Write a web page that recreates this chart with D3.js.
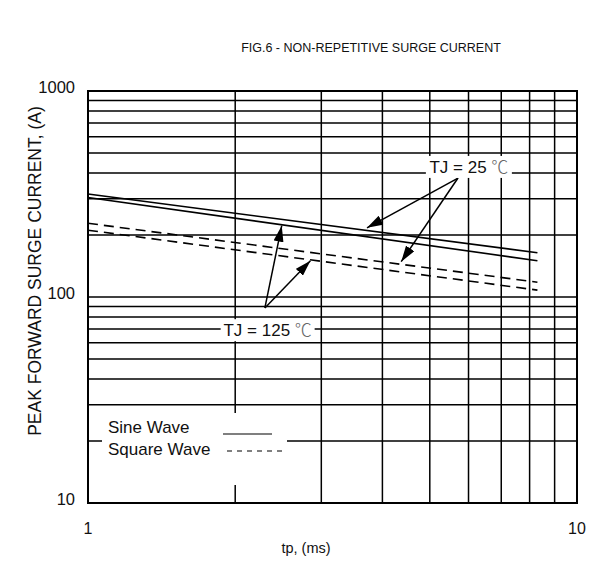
<!DOCTYPE html>
<html>
<head>
<meta charset="utf-8">
<script src="https://cdn.jsdelivr.net/npm/d3@7"></script>
<style>
  body { margin: 0; background: #fff; }
  text { font-family: "Liberation Sans", Arial, sans-serif; fill: #111; }
</style>
</head>
<body>
<script>
// data (tp in ms, current in A)
var tp = [1, 8.3];
var sine25 = [316, 164];
var sine125 = [304, 150];
var square25 = [228, 118];
var square125 = [211, 108];

var xTickLabels = ["1", "10"];
var yTickLabels = ["10", "100", "1000"];

var width = 598, height = 587;
var pLeft = 88, pRight = 577, pTop = 91, pBottom = 503;

var svg = d3.select("body").append("svg")
    .attr("width", width)
    .attr("height", height);

var x = d3.scaleLog().domain([1, 10]).range([pLeft, pRight]);
var y = d3.scaleLog().domain([10, 1000]).range([pBottom, pTop]);

// arrow marker
svg.append("defs").append("marker")
    .attr("id", "head")
    .attr("viewBox", "0 0 16 10")
    .attr("refX", 16).attr("refY", 5)
    .attr("markerWidth", 16).attr("markerHeight", 10)
    .attr("markerUnits", "userSpaceOnUse")
    .attr("orient", "auto")
  .append("path")
    .attr("d", "M0,0 L16,5 L0,10 Z")
    .attr("fill", "#000");

// grid
var grid = svg.append("g").attr("class", "grid");
grid.selectAll(".vline")
    .data(x.ticks())
  .enter().append("line")
    .attr("x1", function(d) { return x(d); })
    .attr("x2", function(d) { return x(d); })
    .attr("y1", pTop).attr("y2", pBottom)
    .attr("stroke", "#000").attr("stroke-width", 1.5);
grid.selectAll(".hline")
    .data(y.ticks())
  .enter().append("line")
    .attr("y1", function(d) { return y(d); })
    .attr("y2", function(d) { return y(d); })
    .attr("x1", pLeft).attr("x2", pRight)
    .attr("stroke", "#000").attr("stroke-width", 1.5);

// curves
var line = d3.line()
    .x(function(d) { return x(d[0]); })
    .y(function(d) { return y(d[1]); });

function pts(vals) { return tp.map(function(t, i) { return [t, vals[i]]; }); }

// value on a (log-log straight) curve at time t
function at(vals, t) {
  var f = Math.log(t / tp[0]) / Math.log(tp[1] / tp[0]);
  return Math.exp(Math.log(vals[0]) + f * (Math.log(vals[1]) - Math.log(vals[0])));
}

[sine25, sine125].forEach(function(v) {
  svg.append("path").attr("d", line(pts(v)))
    .attr("fill", "none").attr("stroke", "#000").attr("stroke-width", 1.6);
});
[square25, square125].forEach(function(v) {
  svg.append("path").attr("d", line(pts(v)))
    .attr("fill", "none").attr("stroke", "#000").attr("stroke-width", 1.6)
    .attr("stroke-dasharray", "10,6");
});

// frame
svg.append("rect")
    .attr("x", pLeft).attr("y", pTop)
    .attr("width", pRight - pLeft).attr("height", pBottom - pTop)
    .attr("fill", "none").attr("stroke", "#000").attr("stroke-width", 2);

// annotations
function label(t, v, txt, w) {
  var g = svg.append("g").attr("transform", "translate(" + x(t) + "," + y(v) + ")");
  g.append("rect").attr("x", -w / 2).attr("y", -11).attr("width", w).attr("height", 22)
    .attr("fill", "#fff");
  var tx = g.append("text").attr("text-anchor", "middle").attr("dy", "0.36em")
    .style("font-size", "17px");
  tx.append("tspan").text(txt + " ");
  tx.append("tspan").text("\u2103").style("fill", "#666")
    .style("font-family", "'Noto Sans CJK SC', sans-serif").style("font-weight", "300");
}
function arrow(t0, v0, t1, v1) {
  svg.append("line")
    .attr("x1", x(t0)).attr("y1", y(v0))
    .attr("x2", x(t1)).attr("y2", y(v1))
    .attr("stroke", "#000").attr("stroke-width", 1.5)
    .attr("marker-end", "url(#head)");
}

arrow(5.71, 378, 3.72, at(sine25, 3.72) * 1.03);
arrow(5.71, 378, 4.37, at(square25, 4.37) * 1.03);
arrow(2.30, 88.5, 2.49, at(sine125, 2.49) * 0.99);
arrow(2.30, 88.5, 2.85, at(square125, 2.85) * 0.99);

label(6.01, 428, "TJ = 25", 86);
label(2.33, 69, "TJ = 125", 94);

// legend
var lg = svg.append("g").attr("transform", "translate(" + (pLeft + 14) + ",413)");
lg.append("rect").attr("width", 185).attr("height", 72).attr("fill", "#fff");
lg.append("text").attr("x", 6).attr("y", 20).style("font-size", "17px").text("Sine Wave");
lg.append("line").attr("x1", 121).attr("x2", 170).attr("y1", 21).attr("y2", 21)
    .attr("stroke", "#000").attr("stroke-width", 1.2);
lg.append("text").attr("x", 6).attr("y", 42).style("font-size", "17px").text("Square Wave");
lg.append("line").attr("x1", 125).attr("x2", 182).attr("y1", 38).attr("y2", 38)
    .attr("stroke", "#000").attr("stroke-width", 1.2).attr("stroke-dasharray", "5,5");

// tick labels
svg.selectAll(".xlab")
    .data(xTickLabels)
  .enter().append("text")
    .attr("x", function(d) { return x(+d); })
    .attr("y", pBottom + 31)
    .attr("text-anchor", "middle")
    .style("font-size", "16px")
    .text(function(d) { return d; });
svg.selectAll(".ylab")
    .data(yTickLabels)
  .enter().append("text")
    .attr("x", pLeft - 13)
    .attr("y", function(d) { return y(+d); })
    .attr("dy", "0.1em")
    .attr("text-anchor", "end")
    .style("font-size", "16.5px")
    .text(function(d) { return d; });

// titles
svg.append("text")
    .attr("x", 371).attr("y", 52)
    .attr("text-anchor", "middle")
    .style("font-size", "12.5px")
    .text("FIG.6 - NON-REPETITIVE SURGE CURRENT");
svg.append("text")
    .attr("x", 306).attr("y", 553)
    .attr("text-anchor", "middle")
    .style("font-size", "14.5px")
    .text("tp, (ms)");
svg.append("text")
    .attr("transform", "translate(41," + 271 + ") rotate(-90)")
    .attr("text-anchor", "middle")
    .style("font-size", "17.5px")
    .text("PEAK FORWARD SURGE CURRENT, (A)");
</script>
</body>
</html>
